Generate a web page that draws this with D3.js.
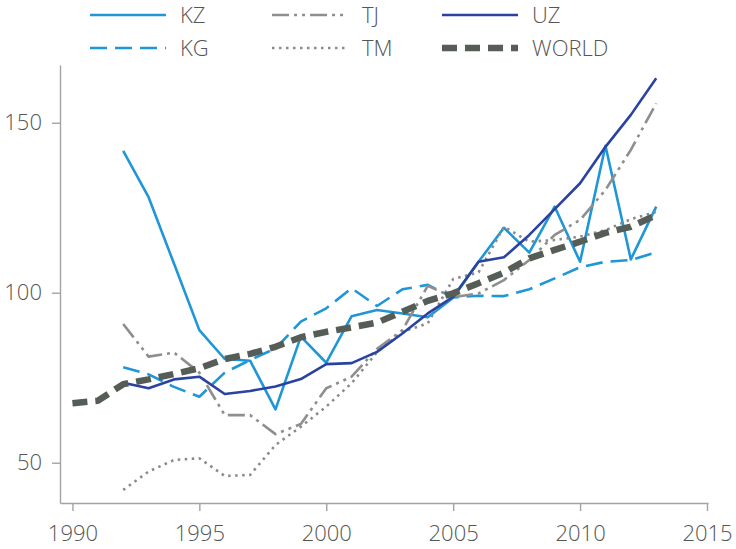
<!DOCTYPE html>
<html><head><meta charset="utf-8">
<script src="https://cdn.jsdelivr.net/npm/d3@7"></script>
<style>
html,body{margin:0;padding:0;background:#fff;}
svg text{font-family:"Open Sans","Noto Sans",sans-serif;font-weight:300;fill:#555;}
</style></head>
<body>
<svg id="chart" width="736" height="549"></svg>
<script>
const years = d3.range(1990, 2014);
const kz = [null,null,141.7,128.1,108.6,89.0,80.5,80.0,65.7,87.1,79.4,93.1,94.9,93.9,92.8,98.5,109.1,119.1,111.8,125.3,109.1,143.2,109.8,125.3];
const kg = [null,null,78.1,76.0,72.3,69.4,76.5,80.2,83.6,91.5,95.4,101.3,96.1,101.0,102.3,98.6,99.1,99.0,101.0,104.2,107.5,109.1,109.6,111.9];
const tj = [null,null,90.8,81.2,82.4,76.5,64.0,64.0,58.4,61.4,71.9,75.3,83.5,89.0,102.0,98.7,99.8,103.7,109.6,117.0,121.4,130.2,142.0,155.7];
const tm = [null,null,42.0,47.4,50.8,51.3,46.1,46.4,55.2,60.6,66.5,73.4,82.5,88.5,91.0,104.0,106.0,119.4,115.0,115.5,116.5,118.4,121.6,123.8];
const uz = [null,null,73.5,71.9,74.5,75.3,70.2,71.1,72.4,74.6,79.0,79.3,82.6,88.0,93.9,98.8,109.1,110.4,117.0,124.6,132.2,142.9,152.3,163.1];
const world = [67.5,68.2,73.1,74.5,76.1,77.8,80.5,82.0,84.1,86.9,88.5,89.8,91.2,94.4,97.6,99.8,102.8,105.9,110.1,112.6,115.0,117.6,119.4,122.8];
const xTicks = [1990,1995,2000,2005,2010,2015];
const yTicks = [50,100,150];

const seriesNames = ["KZ","KG","TJ","TM","UZ","WORLD"];
const seriesVals = [kz,kg,tj,tm,uz,world];
const styles = {
  KZ:{color:"#1f97d6",width:2.6,dash:null},
  KG:{color:"#1f97d6",width:2.6,dash:"17,8"},
  TJ:{color:"#8e8e8e",width:2.6,dash:"17,5,3,5,3,5"},
  TM:{color:"#8a8a8a",width:2.6,dash:"2.5,4.5"},
  UZ:{color:"#2a43a0",width:2.6,dash:null},
  WORLD:{color:"#565d56",width:6.5,dash:"15,8"}
};

const svg = d3.select("#chart");
const x = d3.scaleLinear().domain([1989.51, 2015.04]).range([60, 708]);
const y = d3.scaleLinear().domain([38.15, 166.97]).range([503, 65]);

const axisColor = "#a3a3a3";
const gx = svg.append("g").attr("transform","translate(0,503)")
  .call(d3.axisBottom(x).tickValues(xTicks).tickFormat(d3.format("d")).tickSize(8).tickPadding(14).tickSizeOuter(0));
const gy = svg.append("g").attr("transform","translate(60,0)")
  .call(d3.axisLeft(y).tickValues(yTicks).tickSize(8).tickPadding(10).tickSizeOuter(0));
[gx,gy].forEach(g=>{
  g.selectAll("path,line").attr("stroke",axisColor).attr("stroke-width",1.4);
  g.selectAll("text").style("font-size","22px").style("fill","#555");
});

const line = d3.line().defined(d=>d.v!=null).x(d=>x(d.yr)).y(d=>y(d.v));
seriesNames.forEach((n,i)=>{
  const data = years.map((yr,j)=>({yr, v: seriesVals[i][j]}));
  const st = styles[n];
  svg.append("path").datum(data).attr("d",line)
    .attr("fill","none").attr("stroke",st.color).attr("stroke-width",st.width)
    .attr("stroke-dasharray",st.dash).attr("stroke-linejoin","round");
});

// legend
const legendPos = {
  KZ:[90,15], KG:[90,48], TJ:[272,15], TM:[272,48], UZ:[442,15], WORLD:[442,48]
};
seriesNames.forEach(n=>{
  const [lx,ly] = legendPos[n];
  const st = styles[n];
  svg.append("line").attr("x1",lx).attr("x2",lx+76).attr("y1",ly).attr("y2",ly)
    .attr("stroke",st.color).attr("stroke-width",st.width).attr("stroke-dasharray",st.dash);
  svg.append("text").attr("x",lx+90).attr("y",ly).attr("dy","0.35em")
    .style("font-size","22px").text(n);
});
</script>
</body></html>
